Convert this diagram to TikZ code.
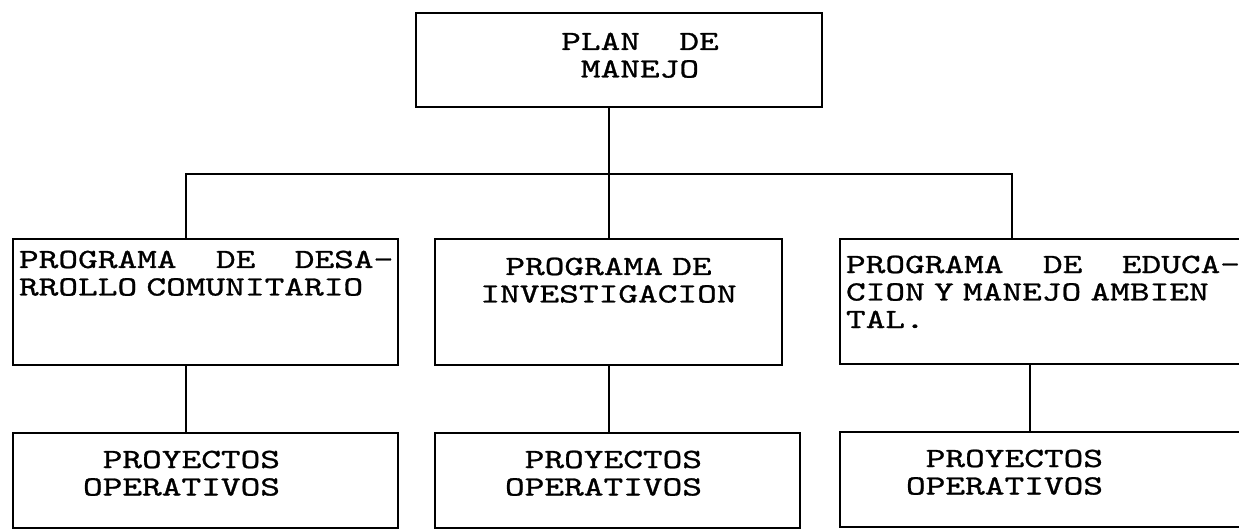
\documentclass[tikz,border=0pt]{standalone}
\usepackage{fontspec}
\usetikzlibrary{positioning}
\newfontfamily\typewriter{lmmono10-regular.otf}[FakeStretch=1.35,FakeBold=1]
\newcommand\blank{\hspace*{\fontcharwd\font`X}}

\begin{document}
\begin{tikzpicture}[x=1pt, y=-1pt,
  box/.style = {draw, line width=1.7pt, outer sep=0pt, inner ysep=5pt,
    font=\typewriter\fontsize{27.8}{27.5}\selectfont},
  link/.style = {line width=1.7pt}]
\useasboundingbox (0,0) rectangle (1239,529);
\node[box, anchor=north west, align=center, inner xsep=6pt, text width=394pt, text height=32pt, text depth=52pt] (plan) at (416,13) {\mbox{\hspace*{42pt}PLAN\blank\blank DE}\\\mbox{\hspace*{42pt}MANEJO}};
\node[box, anchor=north west, align=left, inner xsep=6pt, text width=373pt, text height=24pt, text depth=92pt] (progcom) at (13,239) {\mbox{PROGRAMA\blank\blank DE\blank\blank DESA-}\\\mbox{RROLLO COMUNITARIO}};
\node[box, anchor=north west, align=center, inner xsep=6pt, text width=335pt, text height=31pt, text depth=85pt] (proginv) at (435,239) {\mbox{PROGRAMA DE}\\\mbox{INVESTIGACION}};
\node[box, anchor=north west, align=left, inner xsep=6pt, text width=400pt, text height=29pt, text depth=86pt] (progedu) at (840,239) {\mbox{PROGRAMA\blank\blank DE\blank\blank EDUCA-}\\\mbox{CION Y MANEJO AMBIEN}\\\mbox{TAL.}};
\node[box, below=68pt of progcom.south west, anchor=north west, align=left, inner xsep=70pt, text width=245pt, text height=30pt, text depth=55pt] (proy1) {\mbox{\blank PROYECTOS}\\\mbox{OPERATIVOS}};
\node[box, below=68pt of proginv.south west, anchor=north west, align=left, inner xsep=70pt, text width=225pt, text height=30pt, text depth=55pt] (proy2) {\mbox{\blank PROYECTOS}\\\mbox{OPERATIVOS}};
\node[box, below=68pt of progedu.south west, anchor=north west, align=left, inner xsep=66pt, text width=281pt, text height=30pt, text depth=55pt] (proy3) {\mbox{\blank PROYECTOS}\\\mbox{OPERATIVOS}};
\coordinate (hub) at (609,174);
\coordinate (barl) at (186,174);
\coordinate (barr) at (1012,174);
\coordinate (drop) at (1030,400);
\draw[link] (hub |- plan.south) -- (hub);
\draw[link] (barl |- progcom.north) -- (barl) -- (barr) -- (barr |- progedu.north);
\draw[link] (hub) -- (hub |- proginv.north);
\draw[link] (barl |- progcom.south) -- (barl |- proy1.north);
\draw[link] (hub |- proginv.south) -- (hub |- proy2.north);
\draw[link] (drop |- progedu.south) -- (drop |- proy3.north);
\end{tikzpicture}
\end{document}
